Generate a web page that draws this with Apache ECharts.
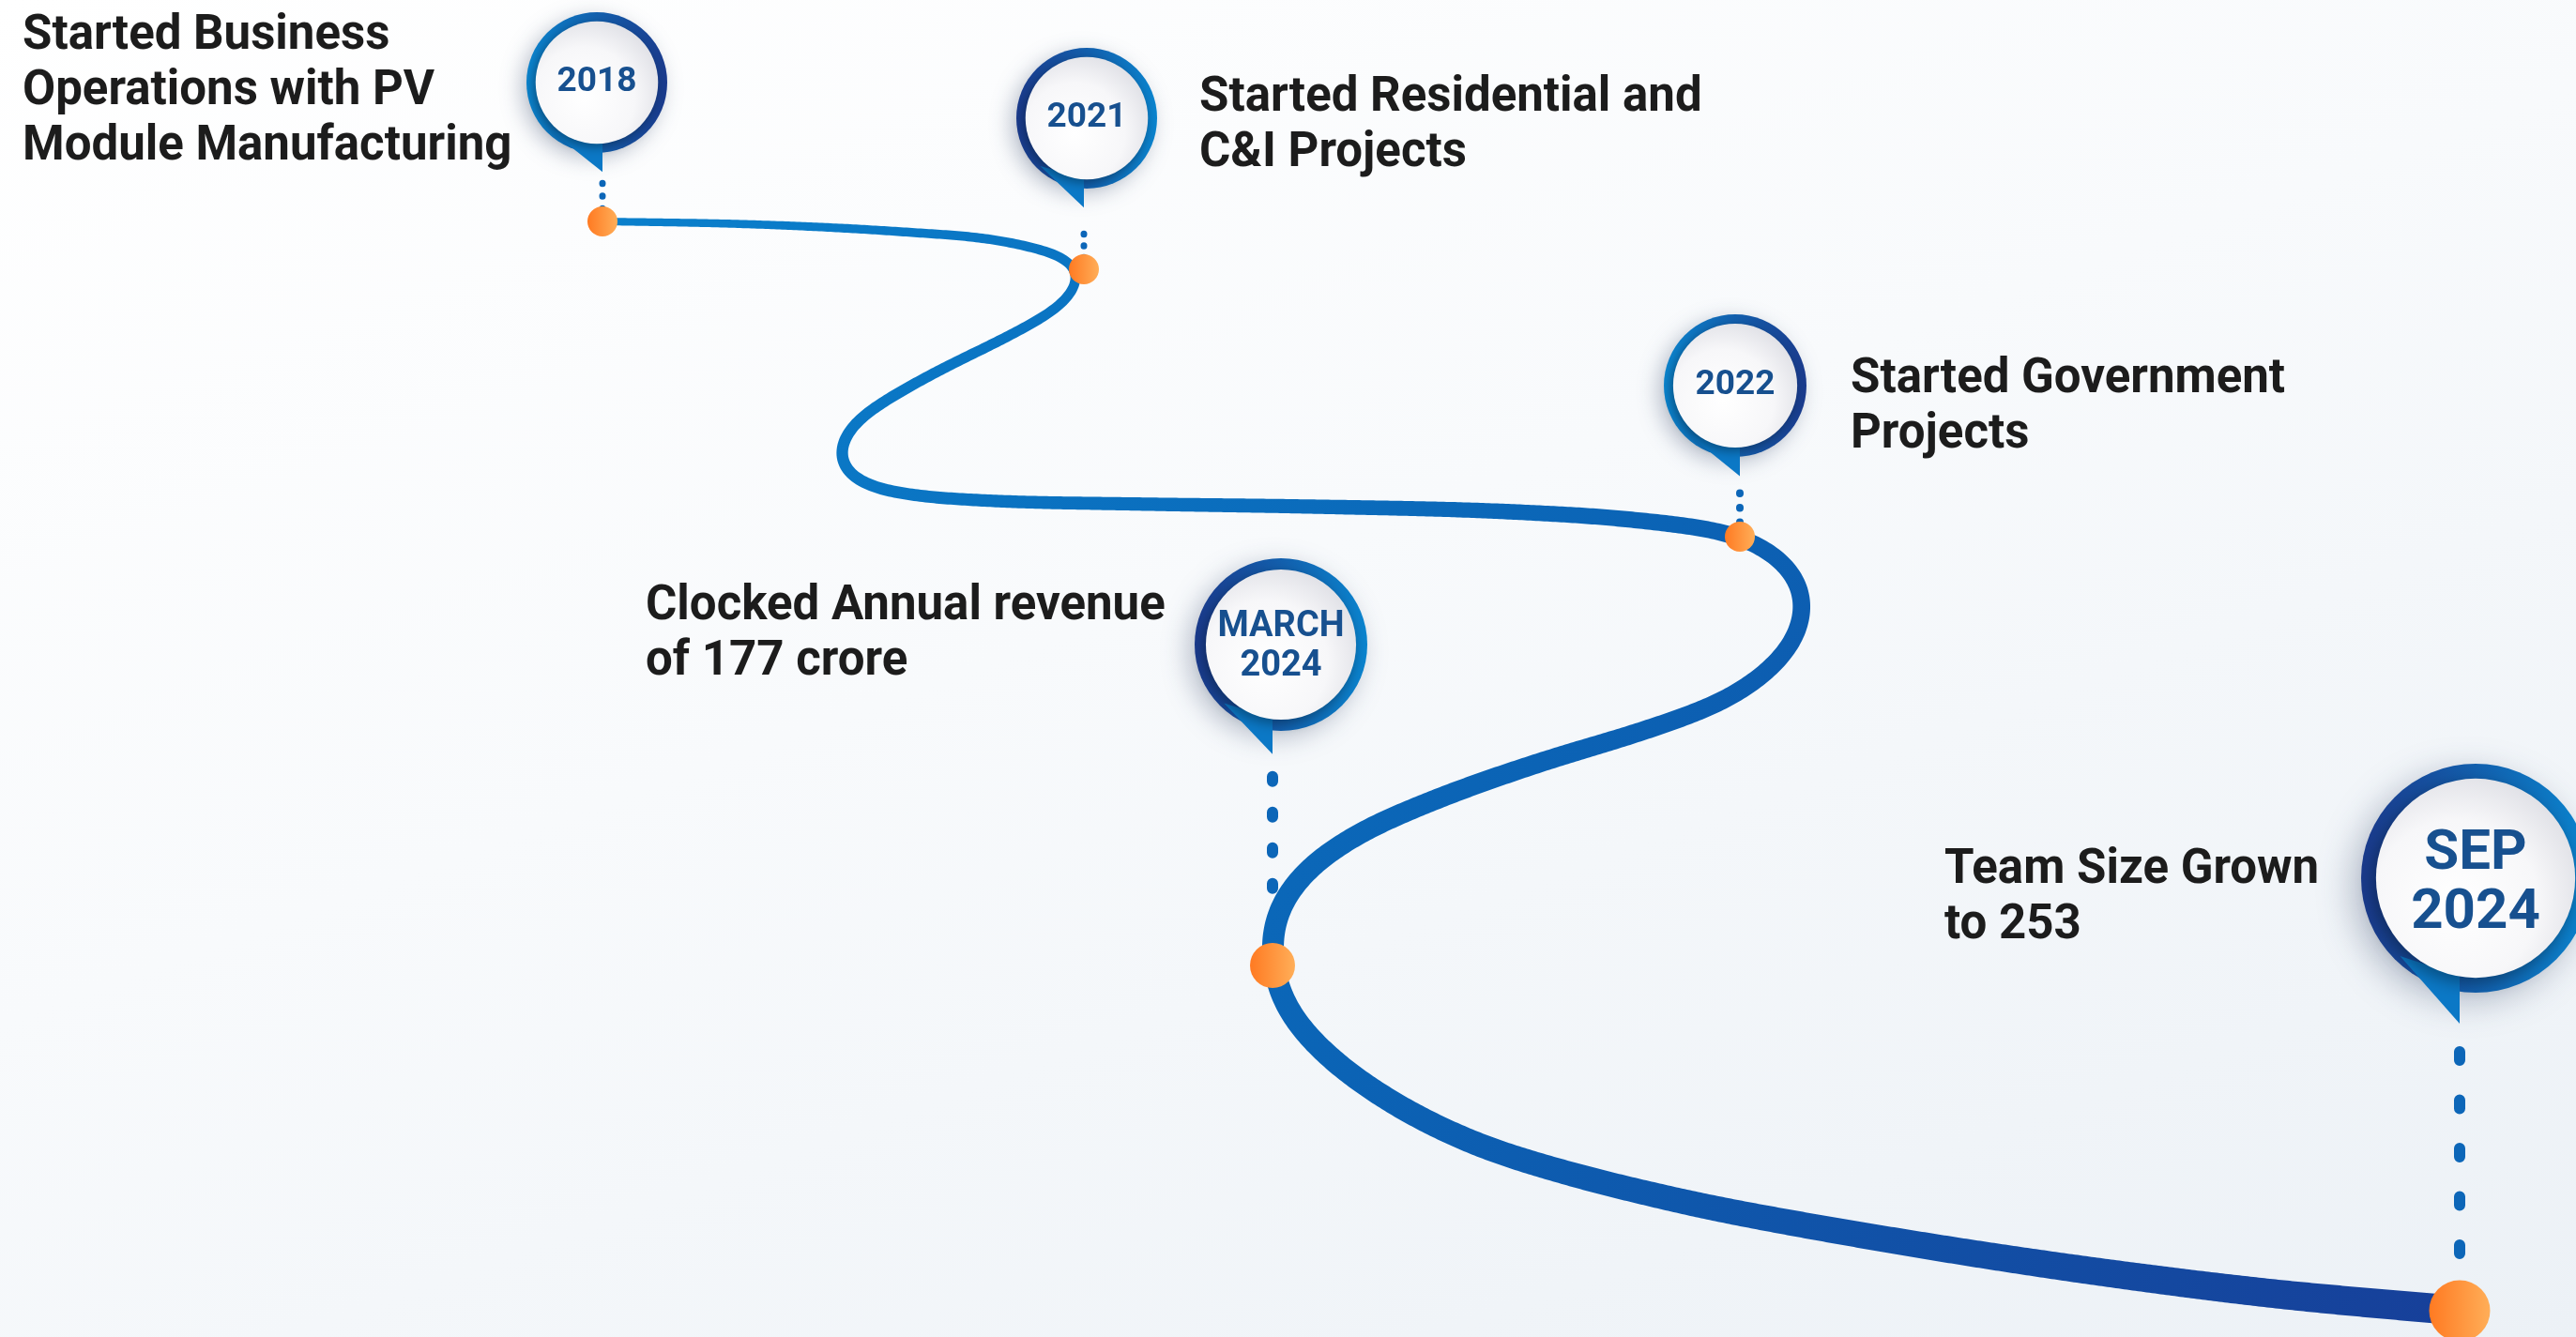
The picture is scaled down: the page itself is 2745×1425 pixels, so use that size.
<!DOCTYPE html>
<html>
<head>
<meta charset="utf-8">
<title>Milestones</title>
<script src="https://cdn.jsdelivr.net/npm/echarts@6/dist/echarts.min.js"></script>
<style>
html,body{margin:0;padding:0;width:100%;height:100%;overflow:hidden}
body{background:linear-gradient(160deg,#ffffff 0%,#f8fafc 45%,#ecf1f6 100%)}
#main{width:2745px;height:1425px}
</style>
</head>
<body>
<div id="main"></div>
<script>
// ---- milestone data ----
const pinText = ['2018', '2021', '2022', 'MARCH\n2024', 'SEP\n2024']
const descText = [
  'Started Business\nOperations with PV\nModule Manufacturing',
  'Started Residential and\nC&I Projects',
  'Started Government\nProjects',
  'Clocked Annual revenue\nof 177 crore',
  'Team Size Grown\nto 253'
]
// point on the road (orange dot)
const milestoneX = [642, 1155, 1854, 1356, 2621]
const milestoneY = [236, 287, 572, 1029, 1397]
// pin head centre
const pinX = [636, 1158, 1849, 1365, 2638]
const pinY = [88, 126, 411, 687, 936]

// ---- road through the milestones ----
const pathX = [642, 800, 960, 1080, 1155, 1140, 1077, 1010, 950, 905, 890, 910, 960, 1060, 1200,
  1400, 1600, 1750, 1854, 1900, 1922, 1918, 1890, 1840, 1760, 1640, 1530, 1440, 1385, 1358, 1356,
  1367, 1387, 1420, 1460, 1510, 1580, 1669, 1760, 1853, 2129, 2406, 2621]
const pathY = [236, 239, 247, 259, 287, 318, 357, 390, 423, 455, 490, 512, 526, 534, 537,
  540, 545, 555, 572, 598, 630, 672, 710, 745, 776, 813, 852, 893, 935, 980, 1029,
  1067, 1097, 1130, 1160, 1190, 1222, 1250, 1273, 1293, 1340, 1377, 1397]

// ---- layout / styles (not data) ----
const pinR = [75, 75, 76, 92, 122]
const pinFont = [37, 37, 37, 38, 60]
const pinLineH = [42, 42, 42, 42, 63]
const pinTextDy = [0, 0, 0, 2, 6]
const ringLightLeft = [true, false, true, false, false]
const dotSize = [32, 32, 32, 48, 65]
const stemStyle = [
  {w: 7, dash: [0.5, 13], start: 12},
  {w: 7, dash: [0.5, 12], start: 28},
  {w: 8, dash: [0.5, 15], start: 18},
  {w: 12, dash: [5, 33], start: 24},
  {w: 12, dash: [9, 42.5], start: 30}
]
const descLeft = [24, 1278, 1972, 688, 2072]
const descMidY = [98, 135, 435, 677, 958]
const roadWidth = {w0: 8, w1: 32, pow: 1.1}

const DARK = '#1a3a8c'
const LIGHT = '#0a84ce'

let chartInstance = echarts.init(document.getElementById('main'), null, {renderer: 'canvas'})

// centripetal catmull-rom through pixel points
function catmullRom (pts, n) {
  const out = []
  const dist = (a, b) => Math.pow(Math.hypot(b[0] - a[0], b[1] - a[1]) || 1e-3, 0.5)
  const lerp = (a, b, ta, tb, t) => [
    ((tb - t) * a[0] + (t - ta) * b[0]) / (tb - ta),
    ((tb - t) * a[1] + (t - ta) * b[1]) / (tb - ta)
  ]
  const last = pts.length - 1
  for (let i = 0; i < last; i++) {
    const p1 = pts[i], p2 = pts[i + 1]
    const p0 = i > 0 ? pts[i - 1] : [2 * p1[0] - p2[0], 2 * p1[1] - p2[1]]
    const p3 = i + 2 <= last ? pts[i + 2] : [2 * p2[0] - p1[0], 2 * p2[1] - p1[1]]
    const t0 = 0, t1 = t0 + dist(p0, p1), t2 = t1 + dist(p1, p2), t3 = t2 + dist(p2, p3)
    for (let k = 0; k < n; k++) {
      const t = t1 + (t2 - t1) * k / n
      const a1 = lerp(p0, p1, t0, t1, t), a2 = lerp(p1, p2, t1, t2, t), a3 = lerp(p2, p3, t2, t3, t)
      const b1 = lerp(a1, a2, t0, t2, t), b2 = lerp(a2, a3, t1, t3, t)
      out.push(lerp(b1, b2, t1, t2, t))
    }
  }
  out.push(pts[last])
  return out
}

// even spacing along the curve
function resample (pts, step) {
  const out = [pts[0]]
  let carry = 0
  for (let i = 1; i < pts.length; i++) {
    const a = pts[i - 1], b = pts[i]
    const seg = Math.hypot(b[0] - a[0], b[1] - a[1])
    let pos = step - carry
    while (pos <= seg) {
      const t = pos / seg
      out.push([a[0] + (b[0] - a[0]) * t, a[1] + (b[1] - a[1]) * t])
      pos += step
    }
    carry = seg - (pos - step)
  }
  out.push(pts[pts.length - 1])
  return out
}

// symmetric box blur, ends stay fixed
function soften (pts, k, passes) {
  let cur = pts
  for (let p = 0; p < passes; p++) {
    const next = []
    for (let i = 0; i < cur.length; i++) {
      const h = Math.min(k, i, cur.length - 1 - i)
      let sx = 0, sy = 0
      for (let j = i - h; j <= i + h; j++) { sx += cur[j][0]; sy += cur[j][1] }
      next.push([sx / (2 * h + 1), sy / (2 * h + 1)])
    }
    cur = next
  }
  return cur
}

function renderRoad (params, api) {
  const pts = pathX.map((x, i) => api.coord([x, pathY[i]]))
  const curve = soften(resample(catmullRom(pts, 24), 3), 7, 3)
  const len = [0]
  for (let i = 1; i < curve.length; i++) {
    len.push(len[i - 1] + Math.hypot(curve[i][0] - curve[i - 1][0], curve[i][1] - curve[i - 1][1]))
  }
  const total = len[len.length - 1]
  const left = [], right = []
  for (let i = 0; i < curve.length; i++) {
    const a = curve[Math.max(i - 1, 0)], b = curve[Math.min(i + 1, curve.length - 1)]
    let dx = b[0] - a[0], dy = b[1] - a[1]
    const d = Math.hypot(dx, dy) || 1
    dx /= d; dy /= d
    const w = (roadWidth.w0 + (roadWidth.w1 - roadWidth.w0) * Math.pow(len[i] / total, roadWidth.pow)) / 2
    left.push([curve[i][0] - dy * w, curve[i][1] + dx * w])
    right.push([curve[i][0] + dy * w, curve[i][1] - dx * w])
  }
  return {
    type: 'polygon',
    shape: {points: left.concat(right.reverse())},
    style: {
      fill: new echarts.graphic.LinearGradient(0, 0, 1, 1, [
        {offset: 0, color: '#0a80cc'},
        {offset: 0.5, color: '#0b63b5'},
        {offset: 1, color: '#173f99'}
      ])
    }
  }
}

function renderStem (params, api) {
  const i = params.dataIndex
  const top = api.coord([api.value(0), api.value(1)])
  const bottom = api.coord([api.value(0), api.value(2)])
  const s = stemStyle[i]
  return {
    type: 'line',
    shape: {x1: top[0], y1: top[1] + s.start, x2: bottom[0], y2: bottom[1]},
    style: {stroke: '#0c66b8', lineWidth: s.w, lineDash: s.dash, lineCap: 'round'}
  }
}

function renderPin (params, api) {
  const i = params.dataIndex
  const c = api.coord([api.value(0), api.value(1)])
  const tipX = api.coord([api.value(2), 0])[0]
  const cx = c[0], cy = c[1]
  const r = pinR[i]
  const stops = ringLightLeft[i]
    ? [{offset: 0, color: LIGHT}, {offset: 1, color: DARK}]
    : [{offset: 0, color: DARK}, {offset: 1, color: LIGHT}]
  return {
    type: 'group',
    children: [
      {
        type: 'circle',
        shape: {cx: cx, cy: cy, r: r},
        style: {
          fill: new echarts.graphic.LinearGradient(0, 0, 1, 0, stops),
          shadowBlur: r * 0.3, shadowColor: 'rgba(20,40,80,0.28)',
          shadowOffsetX: -r * 0.08, shadowOffsetY: r * 0.08
        }
      },
      {
        type: 'polygon',
        shape: {points: [[cx - r * 0.66, cy + r * 0.68], [tipX, cy + r * 1.27], [tipX, cy + r * 0.85]]},
        style: {fill: '#0b78c6'}
      },
      {
        type: 'circle',
        shape: {cx: cx, cy: cy, r: r * 0.87},
        style: {
          fill: new echarts.graphic.RadialGradient(0.4, 0.62, 0.75, [
            {offset: 0, color: '#ffffff'},
            {offset: 0.55, color: '#f7f7f9'},
            {offset: 1, color: '#d8d9e0'}
          ]),
          shadowBlur: r * 0.14, shadowColor: 'rgba(0,0,0,0.35)',
          shadowOffsetX: -r * 0.03, shadowOffsetY: r * 0.05
        }
      },
      {
        type: 'text',
        style: {
          x: cx, y: cy + pinTextDy[i],
          text: pinText[i],
          fill: '#17508f',
          font: 'bold ' + pinFont[i] + 'px Roboto',
          lineHeight: pinLineH[i],
          align: 'center',
          verticalAlign: 'middle'
        }
      }
    ]
  }
}

function renderDesc (params, api) {
  const i = params.dataIndex
  const p = api.coord([api.value(0), api.value(1)])
  return {
    type: 'text',
    style: {
      x: p[0], y: p[1],
      text: descText[i],
      fill: '#1c1c1c',
      font: 'bold 51px Roboto',
      lineHeight: 59,
      align: 'left',
      verticalAlign: 'middle'
    }
  }
}

const option = {
  animation: false,
  backgroundColor: 'transparent',
  grid: {left: 0, right: 0, top: 0, bottom: 0, containLabel: false},
  xAxis: {type: 'value', min: 0, max: 2745, show: false},
  yAxis: {type: 'value', min: 0, max: 1425, inverse: true, show: false},
  series: [
    {
      name: 'stems',
      type: 'custom',
      silent: true,
      z: 1,
      renderItem: renderStem,
      data: milestoneX.map((x, i) => [x, pinY[i] + pinR[i] * 1.27, milestoneY[i]])
    },
    {
      name: 'road',
      type: 'custom',
      silent: true,
      z: 2,
      renderItem: renderRoad,
      data: [[pathX[0], pathY[0]]]
    },
    {
      name: 'milestones',
      type: 'scatter',
      silent: true,
      z: 3,
      symbol: 'circle',
      symbolSize: (val, params) => dotSize[params.dataIndex],
      itemStyle: {
        opacity: 1,
        color: new echarts.graphic.LinearGradient(0, 0, 1, 0, [
          {offset: 0, color: '#ff7a22'},
          {offset: 1, color: '#ffae58'}
        ])
      },
      data: milestoneX.map((x, i) => [x, milestoneY[i]])
    },
    {
      name: 'pins',
      type: 'custom',
      silent: true,
      z: 4,
      renderItem: renderPin,
      data: pinX.map((x, i) => [x, pinY[i], milestoneX[i]])
    },
    {
      name: 'descriptions',
      type: 'custom',
      silent: true,
      z: 5,
      renderItem: renderDesc,
      data: descLeft.map((x, i) => [x, descMidY[i]])
    }
  ]
}
chartInstance.setOption(option)
</script>
</body>
</html>
